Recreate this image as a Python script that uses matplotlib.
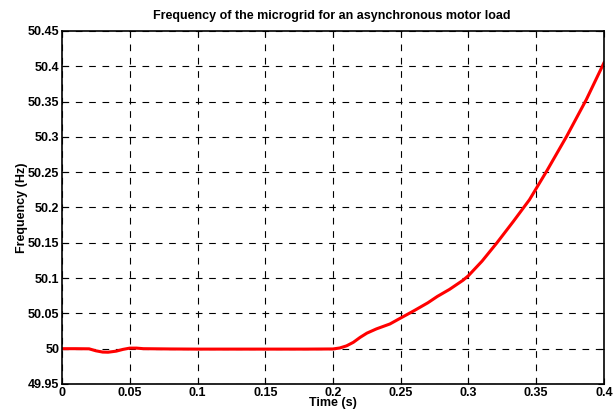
import numpy as np
import matplotlib.pyplot as plt

plt.rcParams['font.family'] = ['Liberation Sans', 'DejaVu Sans']
plt.rcParams['font.weight'] = 'bold'

# Frequency trace
t = [0.0, 0.010, 0.020, 0.025, 0.030, 0.034, 0.040, 0.045, 0.050, 0.055,
     0.060, 0.080, 0.100, 0.120, 0.150, 0.180, 0.200, 0.205, 0.210, 0.215,
     0.220, 0.225, 0.232, 0.242, 0.250, 0.260, 0.270, 0.277, 0.286, 0.296,
     0.300, 0.310, 0.321, 0.333, 0.345, 0.3577, 0.3725, 0.387, 0.400]
freq = [50.0, 50.0, 49.9998, 49.997, 49.9952, 49.995, 49.9965, 49.999, 50.0008, 50.0008,
        50.0, 49.9996, 49.9994, 49.9994, 49.9994, 49.9994, 49.9996, 50.001, 50.004, 50.009,
        50.016, 50.022, 50.028, 50.035, 50.0435, 50.054, 50.065, 50.074, 50.084, 50.097,
        50.1035, 50.124, 50.150, 50.180, 50.211, 50.2515, 50.301, 50.353, 50.405]

fig = plt.figure(figsize=(6.14, 4.12), dpi=100)
ax = fig.add_axes([0.101, 0.068, 0.8827, 0.8568])

ax.plot(t, freq, color='red', linewidth=2.2)

ax.set_xlim(0, 0.4)
ax.set_ylim(49.95, 50.45)
ax.set_xticks(np.arange(0, 0.401, 0.05))
ax.set_xticklabels(['0', '0.05', '0.1', '0.15', '0.2', '0.25', '0.3', '0.35', '0.4'])
ax.set_yticks(np.arange(49.95, 50.451, 0.05))
ax.set_yticklabels(['49.95', '50', '50.05', '50.1', '50.15', '50.2', '50.25',
                    '50.3', '50.35', '50.4', '50.45'])
ax.tick_params(direction='in', top=True, right=True, labelsize=9, length=4, pad=2)
for lbl in ax.get_xticklabels() + ax.get_yticklabels():
    lbl.set_fontweight('bold')

ax.grid(True, color='black', linestyle=(0, (6, 6)), linewidth=0.8)
for s in ax.spines.values():
    s.set_linewidth(1.2)

fig.text(0.54, 0.962, 'Frequency of the microgrid for an asynchronous motor load',
         fontsize=9, fontweight='bold', ha='center', va='center')
ax.set_xlabel('Time (s)', fontsize=9, fontweight='bold', labelpad=-1)
ax.set_ylabel('Frequency (Hz)', fontsize=9, fontweight='bold', labelpad=0)

fig.savefig('out.png', dpi=100)
